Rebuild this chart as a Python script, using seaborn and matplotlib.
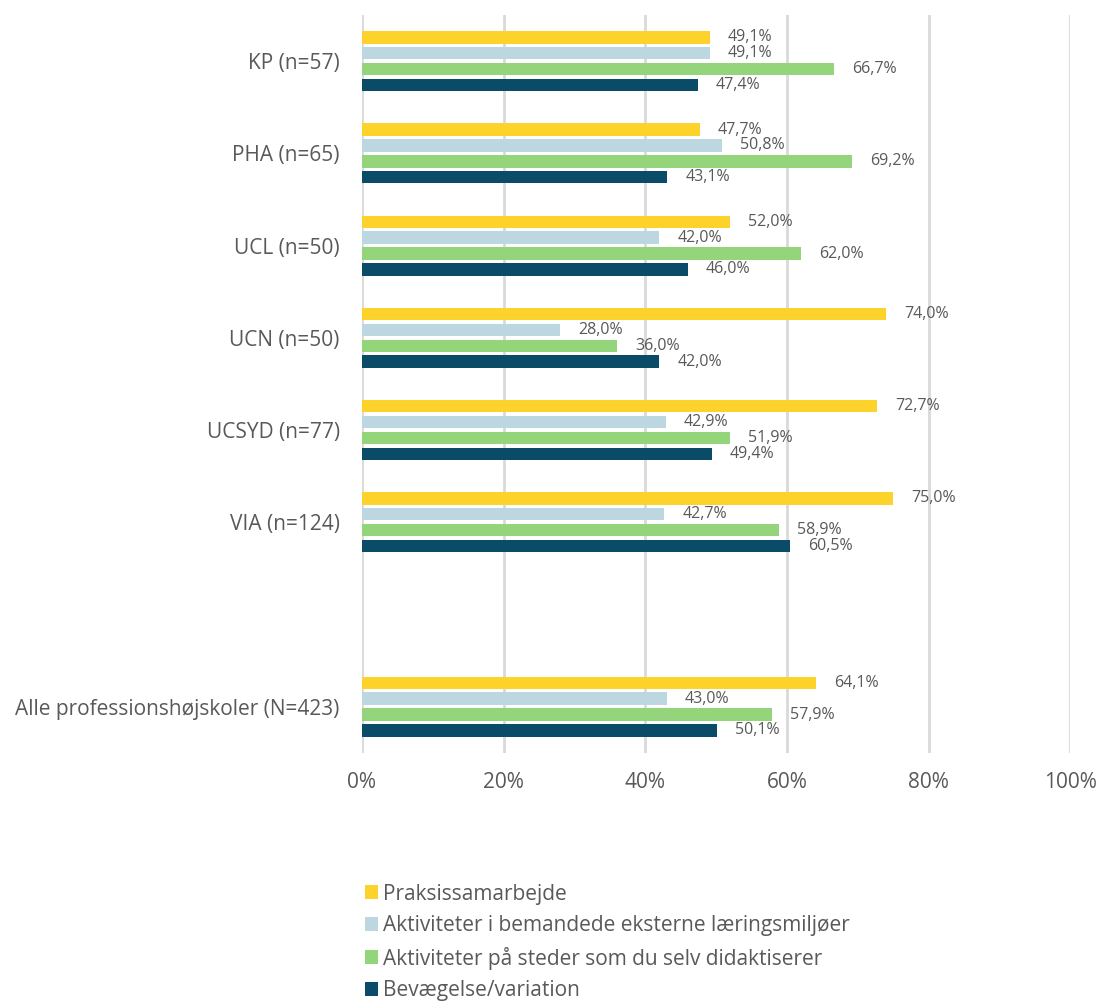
import pandas as pd
import numpy as np
import seaborn as sns
import matplotlib.pyplot as plt

sns.set_theme(style='white')
plt.rcParams['font.family'] = ['Open Sans', 'DejaVu Sans']

schools = ['KP (n=57)', 'PHA (n=65)', 'UCL (n=50)', 'UCN (n=50)', 'UCSYD (n=77)', 'VIA (n=124)',
           'Alle professionshøjskoler (N=423)']
series = ['Praksissamarbejde', 'Aktiviteter i bemandede eksterne læringsmiljøer',
          'Aktiviteter på steder som du selv didaktiserer', 'Bevægelse/variation']
praksis = [49.1, 47.7, 52.0, 74.0, 72.7, 75.0, 64.1]
bemandede = [49.1, 50.8, 42.0, 28.0, 42.9, 42.7, 43.0]
didaktiserer = [66.7, 69.2, 62.0, 36.0, 51.9, 58.9, 57.9]
bevaegelse = [47.4, 43.1, 46.0, 42.0, 49.4, 60.5, 50.1]
colors = ['#FDD22B', '#BDD7E0', '#94D57C', '#0A4B67']

rows = []
for s, vals in zip(series, [praksis, bemandede, didaktiserer, bevaegelse]):
    for sc, v in zip(schools, vals):
        rows.append({'school': sc, 'serie': s, 'pct': v})
df = pd.DataFrame(rows)

# blank slot between VIA and the total
order = schools[:6] + [' '] + schools[6:]

fig = plt.figure(figsize=(11, 10.05), dpi=100)
ax = fig.add_axes([0.329, 0.251, 0.644, 0.734])
sns.barplot(data=df, x='pct', y='school', hue='serie', order=order, hue_order=series,
            palette=colors, saturation=1, linewidth=0, orient='h', width=0.69, gap=0.22,
            ax=ax, legend=True)

for c in ax.containers:
    ax.bar_label(c, labels=[f'{v:.1f}'.replace('.', ',') + '%' for v in c.datavalues],
                 padding=13, fontsize=11.5, color='#595959')

ax.set_xlim(0, 100)
ax.set_xticks([0, 20, 40, 60, 80, 100])
ax.set_xticklabels([f'{t}%' for t in [0, 20, 40, 60, 80, 100]])
ax.tick_params(axis='x', labelsize=15, colors='#595959', pad=14, length=0)
ax.tick_params(axis='y', labelsize=15, colors='#595959', pad=16, length=0)
ax.xaxis.grid(True, color='#D9D9D9', linewidth=2)
ax.set_axisbelow(True)
for sp in ax.spines.values():
    sp.set_visible(False)
ax.set_xlabel('')
ax.set_ylabel('')

handles, labels = ax.get_legend_handles_labels()
ax.get_legend().remove()
fig.legend(handles, labels, loc='upper left', bbox_to_anchor=(0.322, 0.131), frameon=False,
           fontsize=15, labelcolor='#595959', handlelength=0.65, handleheight=0.65,
           handletextpad=0.25, labelspacing=0.5, borderpad=0)

fig.savefig('out.png', dpi=100)
